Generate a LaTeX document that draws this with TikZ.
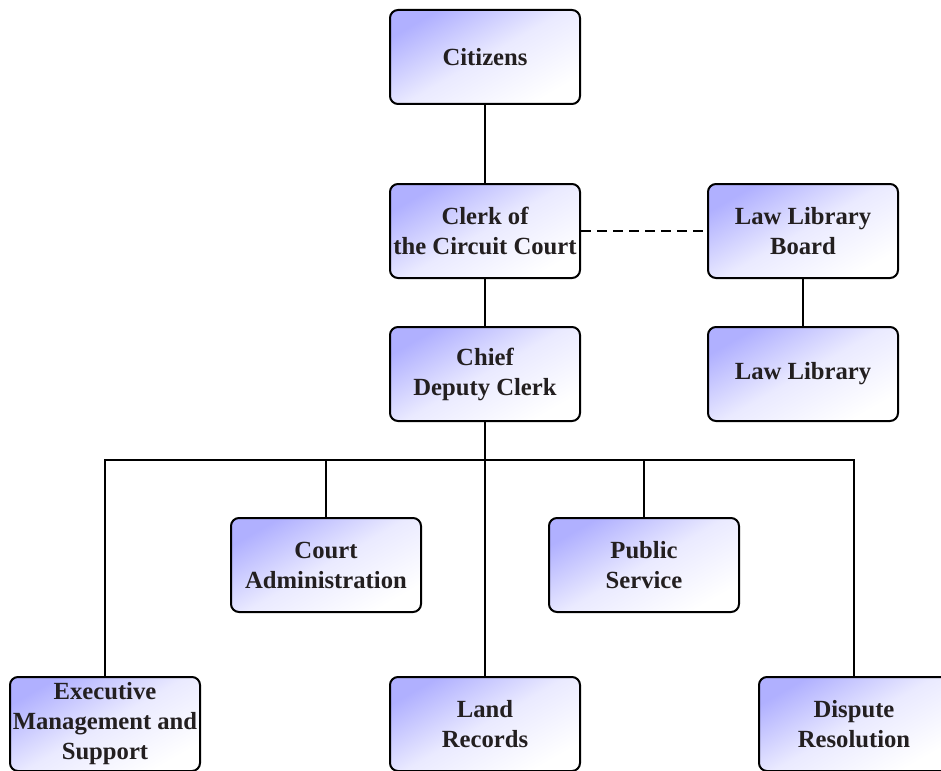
\documentclass[tikz,border=0pt]{standalone}
\usepackage{fontspec}
\setmainfont{Liberation Serif}
\usepackage{tikz}
\usetikzlibrary{positioning}
\definecolor{boxblue}{RGB}{176,176,255}
\definecolor{boxmid}{RGB}{234,234,255}
\definecolor{textdark}{HTML}{231F20}

\begin{document}
\begin{tikzpicture}[
    x=0.75pt, y=-0.75pt,
    every node/.style={font=\fontsize{18.5}{22.5}\selectfont\bfseries, text=textdark},
    unit/.style={draw=black, line width=1.5pt, rounded corners=6pt,
        minimum width=142.5pt, minimum height=70.5pt, align=center,
        inner sep=0pt, top color=boxblue, bottom color=white,
        middle color=boxmid, shading angle=30},
    link/.style={draw=black, line width=1.1pt}
]
    % Page frame (bottom and right edge cut the lowest row)
    \useasboundingbox (0,0) rectangle (941,770);
    \clip (0,0) rectangle (941,770);

    % Top of the chart
    \node[unit] (citizens) at (485,57) {Citizens};
    \node[unit] (clerk) at (485,231) {Clerk of\\the Circuit Court};
    \node[unit] (board) at (803,231) {Law Library\\Board};
    \node[unit] (chief) at (485,374) {Chief\\Deputy Clerk};
    \node[unit] (library) at (803,374) {Law Library};

    % Divisions
    \node[unit] (court) at (326,565) {Court\\Administration};
    \node[unit] (public) at (644,565) {Public\\Service};
    \node[unit] (exec) at (105,724) {Executive\\Management and\\Support};
    \node[unit] (land) at (485,724) {Land\\Records};
    \node[unit] (dispute) at (854,724) {Dispute\\Resolution};

    % Bus line below the chief deputy
    \coordinate (bus) at (485,460);

    % Connectors
    \draw[link] (citizens) -- (clerk);
    \draw[link, dash pattern=on 7.5pt off 4.5pt] (clerk) -- (board);
    \draw[link] (clerk) -- (chief);
    \draw[link] (board) -- (library);
    \draw[link] (chief) -- (land);
    \draw[link] (exec.north) |- (bus) -| (dispute.north);
    \draw[link] (court.north) -- (court.north |- bus);
    \draw[link] (public.north) -- (public.north |- bus);
\end{tikzpicture}
\end{document}
